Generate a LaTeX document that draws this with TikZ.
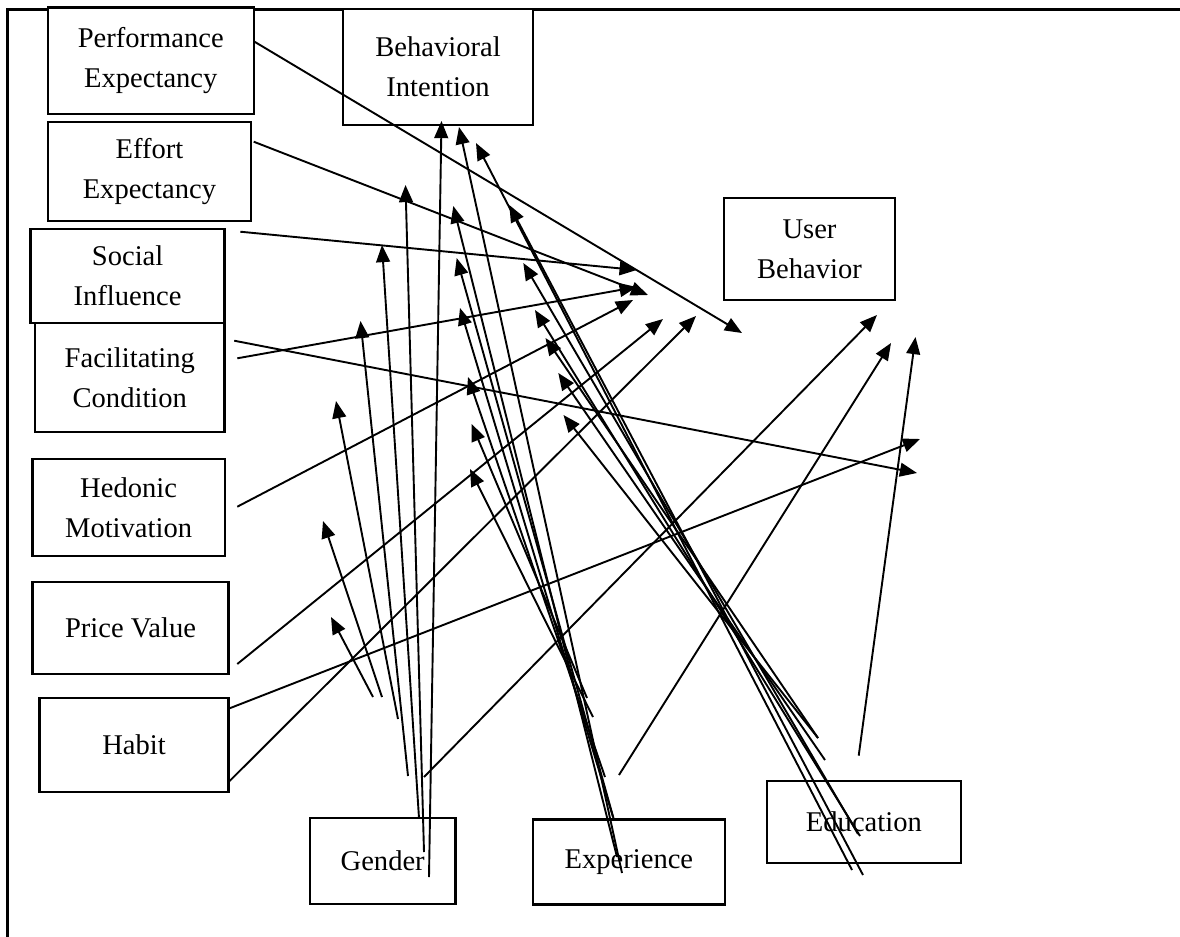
\documentclass[tikz,border=0pt]{standalone}
\usepackage{fontspec}
\setmainfont{Liberation Serif}
\usetikzlibrary{arrows.meta}

\begin{document}
\begin{tikzpicture}[x=0.42pt,y=-0.42pt,
  cbox/.style={draw, fill=white, line width=0.95pt, align=center, inner sep=0pt,
    font=\fontsize{12}{16.8}\selectfont},
  link/.style={line width=0.8pt, -{Triangle[length=7.2pt,width=5.8pt]}}]
  \useasboundingbox (0,0) rectangle (1180,937);

  %# MARCO
  \draw[line width=1.3pt] (7.7,937) -- (7.7,9.5) -- (1180,9.5);

  %# CONSTRUCTOS
  \node[cbox, minimum width=86.5pt, minimum height=44.8pt] (pe) at (150.8,60.7) {Performance\\Expectancy};
  \node[cbox, minimum width=79.8pt, minimum height=48.7pt] (bi) at (438,67) {Behavioral\\Intention};
  \node[cbox, minimum width=85.3pt, minimum height=41.6pt] (ee) at (149.4,171.5) {Effort\\Expectancy};
  \node[cbox, minimum width=81.5pt, minimum height=39.5pt] (si) at (127.6,276) {Social\\Influence};
  \node[cbox, minimum width=79.6pt, minimum height=45.8pt] (fc) at (129.8,377.5) {Facilitating\\Condition};
  \node[cbox, minimum width=80.7pt, minimum height=40.7pt] (hm) at (128.6,507.5) {Hedonic\\Motivation};
  \node[cbox, minimum width=82.3pt, minimum height=38.6pt] (pv) at (130.5,628) {Price Value};
  \node[cbox, minimum width=79.4pt, minimum height=39.5pt] (hb) at (134,745) {Habit};
  \node[cbox, minimum width=71.8pt, minimum height=42.8pt] (ub) at (809.5,249) {User\\Behavior};

  %# MODERADORES
  \node[cbox, minimum width=61.1pt, minimum height=36.1pt] (gd) at (382.7,861) {Gender};
  \node[cbox, minimum width=80.5pt, minimum height=35.7pt] (ex) at (628.9,862) {Experience};
  \node[cbox, minimum width=81.4pt, minimum height=34.3pt] (ed) at (863.9,821.9) {Education};

  %# PUNTOS DE LAS FLECHAS DE LOS CONSTRUCTOS
  \coordinate (c1) at (254.5,41.7);  \coordinate (ct1) at (742,333);
  \coordinate (c2) at (253.7,141.7); \coordinate (ct2) at (648,295);
  \coordinate (c3) at (240.3,231.7); \coordinate (ct3) at (636.7,270);
  \coordinate (c4) at (234.2,340.7); \coordinate (ct4) at (917,473);
  \coordinate (c5) at (237.3,358.3); \coordinate (ct5) at (636.7,287);
  \coordinate (c6) at (237.3,506.7); \coordinate (ct6) at (633,300);
  \coordinate (c7) at (237.3,664);   \coordinate (ct7) at (663,319);
  \coordinate (c8) at (229.6,708.3); \coordinate (ct8) at (920,439);
  \coordinate (c9) at (228.9,781.7); \coordinate (ct9) at (696,316);

  %# PUNTOS DE GENDER
  \coordinate (g1) at (373,697); \coordinate (gt1) at (331,617);
  \coordinate (g2) at (382,697); \coordinate (gt2) at (323,521);
  \coordinate (g3) at (398,719); \coordinate (gt3) at (336,401);
  \coordinate (g4) at (408,776); \coordinate (gt4) at (360.5,321);
  \coordinate (g5) at (419,818); \coordinate (gt5) at (382,245);
  \coordinate (g6) at (424,852); \coordinate (gt6) at (405.5,185);
  \coordinate (g7) at (429,877); \coordinate (gt7) at (441.5,121);
  \coordinate (g8) at (424,777); \coordinate (gt8) at (877,315);

  %# PUNTOS DE EXPERIENCE
  \coordinate (x1) at (587,698); \coordinate (xt1) at (471.7,424);
  \coordinate (x2) at (593,717); \coordinate (xt2) at (470,469);
  \coordinate (x3) at (605,777); \coordinate (xt3) at (468,377);
  \coordinate (x4) at (613,817); \coordinate (xt4) at (460,308);
  \coordinate (x5) at (614,820); \coordinate (xt5) at (456.7,258);
  \coordinate (x6) at (617,857); \coordinate (xt6) at (453.3,206);
  \coordinate (x7) at (622,873); \coordinate (xt7) at (459,127);
  \coordinate (x8) at (619,775); \coordinate (xt8) at (891,343);

  %# PUNTOS DE EDUCATION
  \coordinate (e1) at (818,738);   \coordinate (et1) at (563.5,415);
  \coordinate (e2) at (818,738);   \coordinate (et2) at (545.5,338);
  \coordinate (e3) at (825,760);   \coordinate (et3) at (558.3,373);
  \coordinate (e4) at (860,836);   \coordinate (et4) at (535,310);
  \coordinate (e5) at (858,834);   \coordinate (et5) at (523.3,263);
  \coordinate (e6) at (863,875);   \coordinate (et6) at (509.3,205);
  \coordinate (e7) at (852,870);   \coordinate (et7) at (476,143);
  \coordinate (e8) at (858.7,755.7); \coordinate (et8) at (915.5,337);

  %# FLECHAS
  \foreach \i in {1,...,9} \draw[link] (c\i) -- (ct\i);
  \foreach \i in {1,...,8} {
    \draw[link] (g\i) -- (gt\i);
    \draw[link] (x\i) -- (xt\i);
    \draw[link] (e\i) -- (et\i);
  }
\end{tikzpicture}
\end{document}
